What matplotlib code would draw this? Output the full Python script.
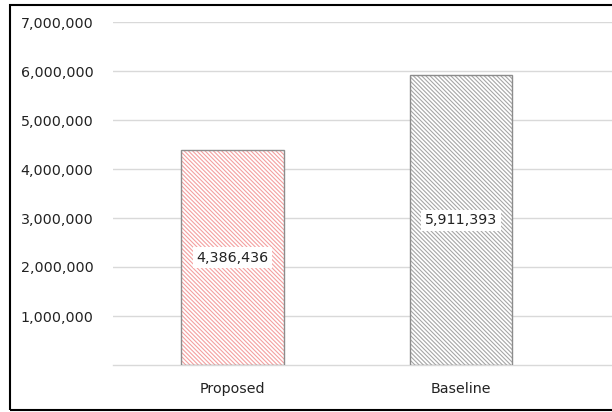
import matplotlib
matplotlib.use("Agg")
import matplotlib.pyplot as plt
from matplotlib.patches import Rectangle
from matplotlib.ticker import FuncFormatter

categories = ["Proposed", "Baseline"]
values = [4386436, 5911393]
hatch_colors = ["#F4A0A0", "#A6A6A6"]
yticks = [1000000, 2000000, 3000000, 4000000, 5000000, 6000000, 7000000]

plt.rcParams['font.family'] = ['DejaVu Sans']
plt.rcParams['hatch.linewidth'] = 0.8

W, H = 612, 412
fig = plt.figure(figsize=(W / 100, H / 100), dpi=100)
ax = fig.add_axes([113 / W, 1 - 365 / H, (W - 113) / W, (365 - 22) / H])

x = list(range(len(categories)))
bw = 0.45
for xi, v, hc in zip(x, values, hatch_colors):
    ax.bar(xi, v, width=bw, facecolor="white", edgecolor=hc, linewidth=0,
           hatch="\\" * 8, zorder=2)
    ax.bar(xi, v, width=bw, facecolor="none", edgecolor="#8C8C8C",
           linewidth=1.0, zorder=3)
    ax.text(xi, v / 2, f"{v:,}", ha="center", va="center", fontsize=10.3,
            color="#222222", zorder=4,
            bbox=dict(boxstyle="square,pad=0.25", facecolor="white",
                      edgecolor="none"))

ax.set_xlim((113 - 232.5) / 228.5, (W - 232.5) / 228.5)
ax.set_ylim(0, 7000000)
ax.set_yticks(yticks)
ax.yaxis.set_major_formatter(FuncFormatter(lambda v, p: f"{int(v):,}"))
ax.set_xticks(x)
ax.set_xticklabels(categories)
ax.tick_params(axis="both", length=0, labelsize=10.3, labelcolor="#222222")
ax.tick_params(axis="y", pad=14)
ax.tick_params(axis="x", pad=12)
ax.grid(axis="y", color="#D9D9D9", linewidth=1.0, zorder=0)
ax.set_axisbelow(True)
for s in ["top", "right", "left"]:
    ax.spines[s].set_visible(False)
ax.spines["bottom"].set_color("#D9D9D9")
ax.spines["bottom"].set_linewidth(1.0)

border = Rectangle((10 / W, 1 - 410 / H), (W + 20 - 10) / W, (410 - 5) / H,
                   transform=fig.transFigure, fill=False, edgecolor="black",
                   linewidth=1.5, clip_on=False)
fig.patches.append(border)

fig.savefig("out.png", dpi=100)
